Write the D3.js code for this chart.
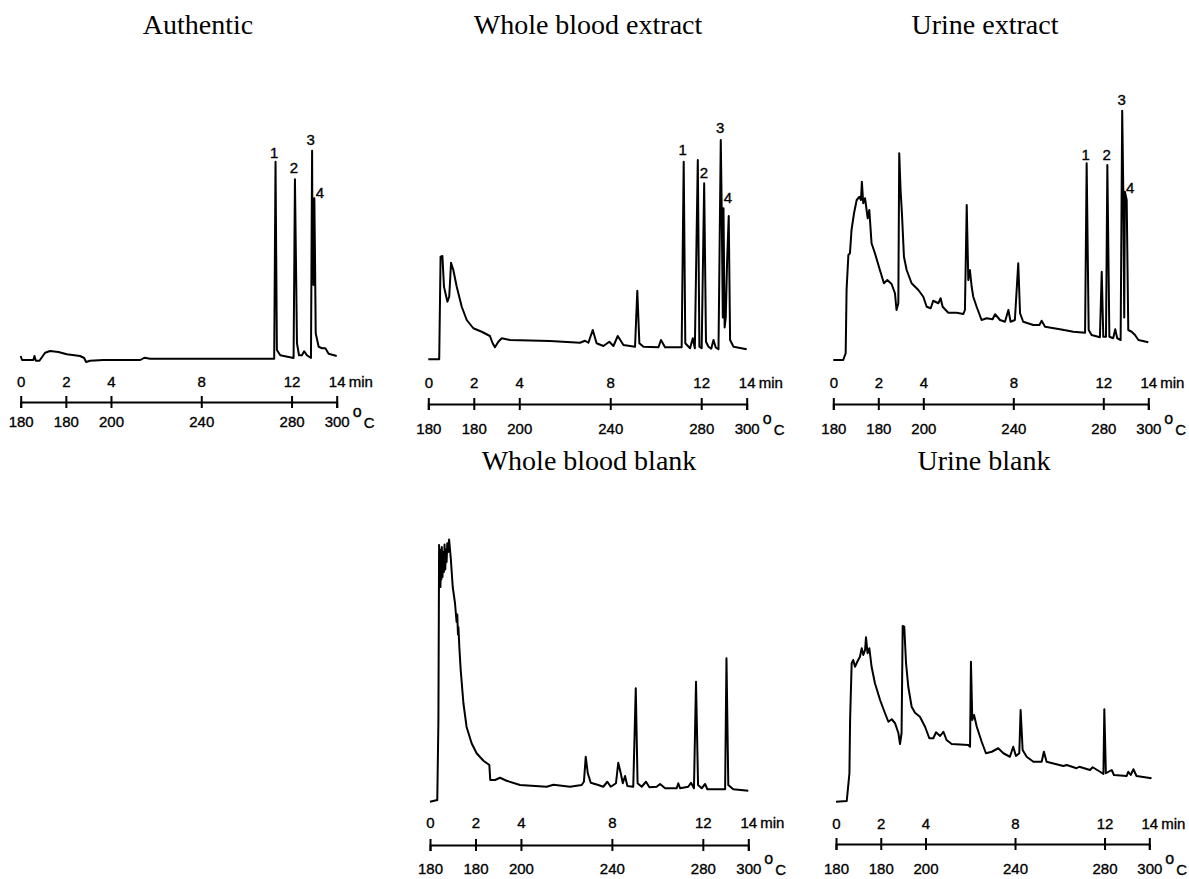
<!DOCTYPE html>
<html>
<head>
<meta charset="utf-8">
<script src="https://cdn.jsdelivr.net/npm/d3@7"></script>
<style>
  body { margin: 0; background: #fff; }
  .title { font-family: "Liberation Serif", serif; font-size: 28px; fill: #000; }
  .tick text, .unit, .peak { font-family: "Liberation Sans", sans-serif; font-size: 15px; fill: #000; stroke: #000; stroke-width: 0.35; }
  .trace { fill: none; stroke: #000; stroke-width: 2; stroke-linejoin: round; }
</style>
</head>
<body>
<svg id="chart" width="1189" height="879"></svg>
<script>
// time axis ticks (min) and the oven temperature under each tick
var minuteTicks = [0, 2, 4, 8, 12, 14];
var tempLabels = ["180", "180", "200", "240", "280", "300"];

// traces: [time (min), detector response (relative)]
var authentic = [[0,1.6],[0.06,0],[0.56,0],[0.61,1.6],[0.67,-0.3],[0.83,-0.3],[1.08,2.9],[1.3,3.6],[1.67,3.2],[2.04,2.3],
  [2.63,1.6],[2.81,0.8],[2.9,-0.8],[3.07,-0.3],[3.67,0],[5.3,0],[5.48,0.9],[5.74,0.5],[7.96,0.5],[11.23,0.5],
  [11.29,79.3],[11.35,4],[11.5,1.9],[12.09,0.8],[12.15,72.3],[12.24,6.7],[12.33,1.9],[12.46,1.9],[12.56,3.5],[12.68,1.9],
  [12.86,0.8],[12.91,83.7],[12.93,35],[12.95,64.7],[12.97,30],[13.01,64.7],[13.04,40],[13.07,10.7],[13.2,5.3],[13.35,4.7],
  [13.5,4.7],[13.64,2.5],[14,1.6]];

var wholeBloodExtract = [[0,0.3],[0.48,0.3],[0.54,41.3],[0.62,41.6],[0.69,29.3],[0.84,23.3],[0.92,25.3],[1.0,38.9],[1.1,36],[1.25,29.3],
  [1.47,21.3],[1.69,16],[1.98,12.7],[2.35,11.3],[2.71,9.6],[2.83,6.7],[2.93,5.1],[3.08,7.3],[3.23,8.7],[3.59,8],
  [5.35,7.6],[6.67,6.9],[6.89,7.7],[7.04,6.9],[7.23,12],[7.4,6.7],[7.7,5.6],[7.96,7.3],[8.14,5.6],[8.33,9.6],
  [8.58,6],[9.09,5.3],[9.19,27.7],[9.28,6.7],[9.46,5.3],[10.12,5.1],[10.23,8],[10.41,5.1],[11.14,5.1],[11.23,79.3],
  [11.3,6.7],[11.51,4.7],[11.63,8.7],[11.72,4.7],[11.85,80],[11.92,5.3],[12.02,4.7],[12.13,70.7],[12.21,7.3],[12.32,5.3],
  [12.44,4.5],[12.54,8],[12.64,5],[12.76,4.3],[12.86,88],[12.9,61],[12.95,17],[12.98,60.7],[13.03,13],[13.08,17],
  [13.14,40],[13.21,57.6],[13.27,8],[13.42,5.3],[14,4.3]];

var urineExtract = [[0,0],[0.44,0],[0.55,2.7],[0.59,28],[0.67,42],[0.74,42.7],[0.81,52],[0.92,58.7],[1.04,64],[1.16,65.3],
  [1.23,64],[1.27,71.3],[1.33,62.7],[1.41,64.7],[1.53,56.7],[1.6,60],[1.7,46.7],[1.85,42.7],[2.07,36],[2.25,30.7],
  [2.4,32],[2.59,30.4],[2.74,26.7],[2.81,20],[2.89,22.7],[2.93,82.7],[2.99,68],[3.05,58.7],[3.14,41.3],[3.26,36],
  [3.48,30.7],[3.78,28],[4.0,25.3],[4.15,21.3],[4.33,20.7],[4.44,23.7],[4.67,22.7],[4.77,24.7],[4.86,21.3],[5.11,18.9],
  [5.48,18.9],[5.78,18.4],[5.85,20],[5.93,62],[6.0,32],[6.07,36],[6.15,29.3],[6.22,25.3],[6.37,21.3],[6.59,16],
  [6.81,16.7],[7.08,16.3],[7.19,18.3],[7.41,16],[7.63,15.3],[7.78,20],[7.88,15.3],[8.07,16],[8.22,38.7],[8.3,18.7],
  [8.44,15.3],[8.89,14],[9.16,14],[9.26,15.7],[9.41,13.3],[10.07,12.3],[10.67,11.3],[11.19,10.9],[11.26,78.7],[11.35,12],
  [11.48,10],[11.85,9.1],[11.93,35.3],[12.0,9.3],[12.12,9.3],[12.18,78],[12.27,9.3],[12.44,8.7],[12.53,12.3],[12.62,8.7],
  [12.77,8],[12.84,99.7],[12.89,66.7],[12.93,17],[12.96,67.3],[13.04,64],[13.11,12],[13.26,11.3],[13.41,10],[13.56,8],
  [14,7.1]];

var wholeBloodBlank = [[0,0.1],[0.32,0.8],[0.37,32.8],[0.4,102.8],[0.42,88],[0.44,100],[0.46,86],[0.48,101],[0.5,89],[0.52,102],
  [0.55,90],[0.58,100],[0.61,92],[0.64,103],[0.67,93],[0.7,101],[0.73,96],[0.76,103.5],[0.8,100],[0.84,105],
  [0.91,98],[1.0,86],[1.1,79.5],[1.17,72],[1.2,75],[1.23,67],[1.25,70],[1.29,62],[1.35,52.8],[1.47,39.5],
  [1.61,30],[1.83,23.5],[2.05,19.5],[2.35,16.5],[2.61,14.8],[2.65,8.8],[2.86,8.8],[3.08,9.7],[3.37,8.5],[3.96,6.8],
  [5.13,6.1],[5.43,6.9],[6.16,6.1],[6.67,6.8],[6.77,8.1],[6.85,18.1],[6.94,11.5],[7.07,7.7],[7.4,6.8],[7.62,6.1],
  [7.8,8.1],[7.95,6.1],[8.18,7.5],[8.28,15.7],[8.39,11.5],[8.48,7.5],[8.58,10.4],[8.68,6.4],[8.94,6.1],[9.05,45.5],
  [9.13,7.5],[9.31,6.1],[9.5,8.1],[9.65,5.9],[9.97,6.1],[10.12,7.2],[10.34,5.5],[10.85,5.5],[10.92,7.5],[11.0,5.5],
  [11.36,6.1],[11.48,7.7],[11.61,5.5],[11.7,48.1],[11.79,6.8],[11.95,5.5],[12.1,7.2],[12.2,5.1],[12.98,5.1],[13.04,57.5],
  [13.12,6.8],[13.34,5.1],[14,4.5]];

var urineBlank = [[0,0.1],[0.48,0.4],[0.6,11.5],[0.63,32.8],[0.7,55.5],[0.77,56.8],[0.85,54.1],[0.95,56.1],[1.07,58.1],[1.15,61.5],
  [1.22,58.8],[1.3,60.8],[1.34,65.9],[1.41,59.5],[1.49,61.5],[1.59,54.1],[1.74,47.5],[1.97,40.8],[2.19,35.5],[2.34,32.1],
  [2.49,33.1],[2.64,31.5],[2.79,27.5],[2.86,23.2],[2.93,27.5],[2.98,70.4],[3.05,70.1],[3.13,55.5],[3.23,46.1],[3.38,38.1],
  [3.53,35.7],[3.75,34.1],[3.98,30.1],[4.17,25.5],[4.35,25.5],[4.47,27.9],[4.65,26.4],[4.8,28.1],[4.94,24.8],[5.17,23.2],
  [5.91,22.8],[5.99,22.1],[6.03,56.1],[6.09,32.8],[6.17,34.8],[6.29,30.1],[6.51,24.1],[6.7,19.5],[6.96,20.1],[7.25,21.5],
  [7.48,19.5],[7.77,18.1],[7.92,22.1],[8.04,18.4],[8.19,19.5],[8.25,36.8],[8.34,20.8],[8.52,18.1],[8.82,16.1],[9.19,16.1],
  [9.29,20.1],[9.41,16.1],[10.16,14.4],[10.31,14.8],[10.75,13.5],[10.87,14.1],[11.35,12.8],[11.47,13.9],[11.8,12.1],[11.95,11.2],
  [11.99,37.1],[12.06,11.5],[12.32,12.8],[12.42,10.8],[12.99,10.4],[13.06,12.1],[13.17,10.8],[13.29,13.1],[13.43,10.4],[14.1,9.5]];

// peak numbers: [label, time, level]
var authenticPeaks = [["1",11.23,83],["2",12.11,77],["3",12.85,88],["4",13.26,67]];
var wholeBloodPeaks = [["1",11.19,84],["2",12.12,75],["3",12.83,93],["4",13.17,65]];
var urinePeaks = [["1",11.22,82],["2",12.15,82],["3",12.82,104],["4",13.19,69]];

// page layout for each chromatogram
var panels = [
  {title: "Authentic", data: authentic, peaks: authenticPeaks, x0: 20.7, x1: 336.7, base: 360, axisY: 402, minDy: -15, tempDy: 25, titleX: 198, titleY: 34},
  {title: "Whole blood extract", data: wholeBloodExtract, peaks: wholeBloodPeaks, x0: 428.3, x1: 746.7, base: 360, axisY: 404, minDy: -16, tempDy: 30, titleX: 588, titleY: 34},
  {title: "Urine extract", data: urineExtract, peaks: urinePeaks, x0: 833.3, x1: 1148.3, base: 360, axisY: 404, minDy: -16, tempDy: 30, titleX: 985, titleY: 34},
  {title: "Whole blood blank", data: wholeBloodBlank, peaks: [], x0: 430, x1: 748.3, base: 802, axisY: 845, minDy: -17, tempDy: 29, titleX: 589, titleY: 470},
  {title: "Urine blank", data: urineBlank, peaks: [], x0: 836, x1: 1149.3, base: 802, axisY: 844, minDy: -15, tempDy: 30, titleX: 984, titleY: 470}
];

var svg = d3.select("#chart");

panels.forEach(function(p) {
  var g = svg.append("g");
  var x = d3.scaleLinear().domain([0, 14]).range([p.x0, p.x1]);
  var y = d3.scaleLinear().domain([0, 100]).range([p.base, p.base - 250]);

  g.append("text")
    .attr("class", "title")
    .attr("x", p.titleX)
    .attr("y", p.titleY)
    .attr("text-anchor", "middle")
    .text(p.title);

  var line = d3.line()
    .x(function(d) { return x(d[0]); })
    .y(function(d) { return y(d[1]); });

  g.append("path")
    .datum(p.data)
    .attr("class", "trace")
    .attr("d", line);

  g.selectAll(".peak")
    .data(p.peaks)
    .enter().append("text")
    .attr("class", "peak")
    .attr("x", function(d) { return x(d[1]); })
    .attr("y", function(d) { return y(d[2]); })
    .attr("text-anchor", "middle")
    .attr("dy", "0.35em")
    .text(function(d) { return d[0]; });

  // temperature axis: line with crossing ticks, labels below
  var temp = g.append("g")
    .attr("transform", "translate(0," + p.axisY + ")")
    .call(d3.axisBottom(x)
      .tickValues(minuteTicks)
      .tickSizeOuter(0)
      .tickSize(6)
      .tickFormat(function(d, i) { return tempLabels[i]; }));
  temp.select(".domain").attr("stroke-width", 2);
  temp.selectAll(".tick line").attr("y1", -6).attr("stroke-width", 2);
  temp.selectAll(".tick text").attr("fill", "#000").attr("y", p.tempDy).attr("dy", null);

  // minutes above the line
  var mins = g.append("g")
    .attr("transform", "translate(0," + p.axisY + ")")
    .call(d3.axisTop(x)
      .tickValues(minuteTicks)
      .tickSize(0)
      .tickFormat(d3.format("d")));
  mins.select(".domain").remove();
  mins.selectAll(".tick text").attr("fill", "#000").attr("y", p.minDy).attr("dy", null);

  g.append("text")
    .attr("class", "unit")
    .attr("x", x(14) + 12)
    .attr("y", p.axisY + p.minDy)
    .text("min");

  g.append("text")
    .attr("class", "unit")
    .attr("x", x(14) + 16)
    .attr("y", p.axisY + p.tempDy - 10)
    .style("font-size", "16px")
    .text("o");
  g.append("text")
    .attr("class", "unit")
    .attr("x", x(14) + 27)
    .attr("y", p.axisY + p.tempDy + 1)
    .text("C");
});
</script>
</body>
</html>
